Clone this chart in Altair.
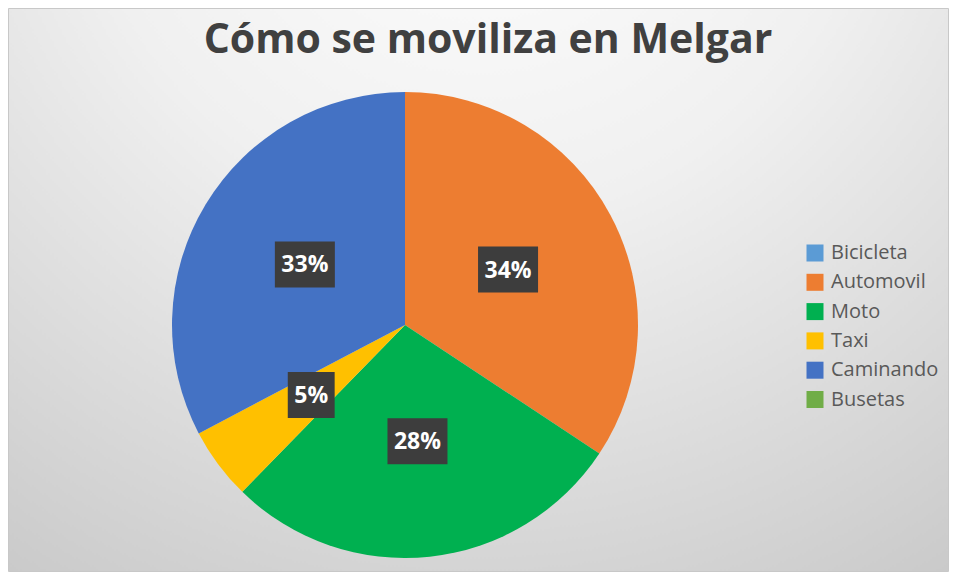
import altair as alt
import pandas as pd

# ---- data ----
categories = ["Bicicleta", "Automovil", "Moto", "Taxi", "Caminando", "Busetas"]
values = [0, 34.3, 28.0, 5.0, 32.7, 0]
colors = ["#5B9BD5", "#ED7D31", "#00B050", "#FFC000", "#4472C4", "#70AD47"]
title_text = "Cómo se moviliza en Melgar"

# ---- layout ----
W, H = 794, 494
PAD_T, PAD_R = 70, 147
R = 233
LABEL_R = 117
FS = 23

df = pd.DataFrame({"cat": categories, "value": values, "idx": list(range(len(categories)))})
base = alt.Chart(df)

bg = alt.Chart(alt.Data(values=[{"k": 1}])).mark_rect(
    fill=alt.Gradient(
        gradient="radial",
        stops=[
            alt.GradientStop(offset=0, color="#ffffff"),
            alt.GradientStop(offset=0.4, color="#f0f0f0"),
            alt.GradientStop(offset=1, color="#c2c2c2"),
        ],
        x1=0.5, y1=0.0, r1=0,
        x2=0.5, y2=0.0, r2=1.05,
    ),
    stroke="#c8c8c8",
    strokeWidth=1,
).encode(
    x=alt.value(0.5),
    x2=alt.value(W + PAD_R - 0.5),
    y=alt.value(-PAD_T + 0.5),
    y2=alt.value(H - 0.5),
)

pie = base.mark_arc(radius=R).encode(
    theta=alt.Theta("value:Q", stack=True),
    color=alt.Color(
        "cat:N",
        sort=categories,
        scale=alt.Scale(domain=categories, range=colors),
        legend=alt.Legend(
            title=None,
            orient="none",
            legendX=797,
            legendY=165,
            symbolType="square",
            symbolSize=289,
            symbolStrokeWidth=0,
            labelFont="Open Sans",
            labelFontSize=20,
            labelColor="#595959",
            labelOffset=6,
            rowPadding=9.3,
            padding=0,
        ),
    ),
    order=alt.Order("idx:Q"),
)

lab = (
    base.transform_joinaggregate(total="sum(value)")
    .transform_window(cum="sum(value)", sort=[alt.SortField("idx")], frame=[None, 0])
    .transform_filter("datum.value > 0")
    .transform_calculate(
        mid="(datum.cum - datum.value/2) / datum.total * 2 * PI",
        label="format(datum.value / datum.total, '.0%')",
    )
    .transform_calculate(
        px=f"{W/2} + {LABEL_R} * sin(datum.mid)",
        py=f"{H/2} - {LABEL_R} * cos(datum.mid)",
        bw=f"14 + {FS} * (0.57 * (length(datum.label) - 1) + 0.86)",
    )
    .transform_calculate(
        bx1="datum.px - datum.bw / 2",
        bx2="datum.px + datum.bw / 2",
        by1="datum.py - 23",
        by2="datum.py + 23",
    )
)

boxes = lab.mark_rect(color="#3d3d3d").encode(
    x=alt.X("bx1:Q", scale=None, axis=None),
    x2="bx2:Q",
    y=alt.Y("by1:Q", scale=None, axis=None),
    y2="by2:Q",
)

texts = lab.mark_text(
    font="Open Sans", fontWeight="bold", fontSize=FS, color="#ffffff",
    align="center", baseline="middle", dy=1,
).encode(
    x=alt.X("px:Q", scale=None, axis=None),
    y=alt.Y("py:Q", scale=None, axis=None),
    text="label:N",
)

chart = alt.layer(bg, pie, boxes, texts).properties(
    width=W,
    height=H,
    autosize="none",
    padding={"left": 0, "top": PAD_T, "right": PAD_R, "bottom": 0},
    title=alt.TitleParams(
        text=title_text,
        font="Open Sans",
        fontSize=41,
        fontWeight="bold",
        color="#404040",
        anchor="middle",
        baseline="alphabetic",
        offset=-44,
        dy=42,
        dx=83,
    ),
).configure_view(stroke=None)

chart.save("out.html", embed_options={"renderer": "svg", "actions": False})
